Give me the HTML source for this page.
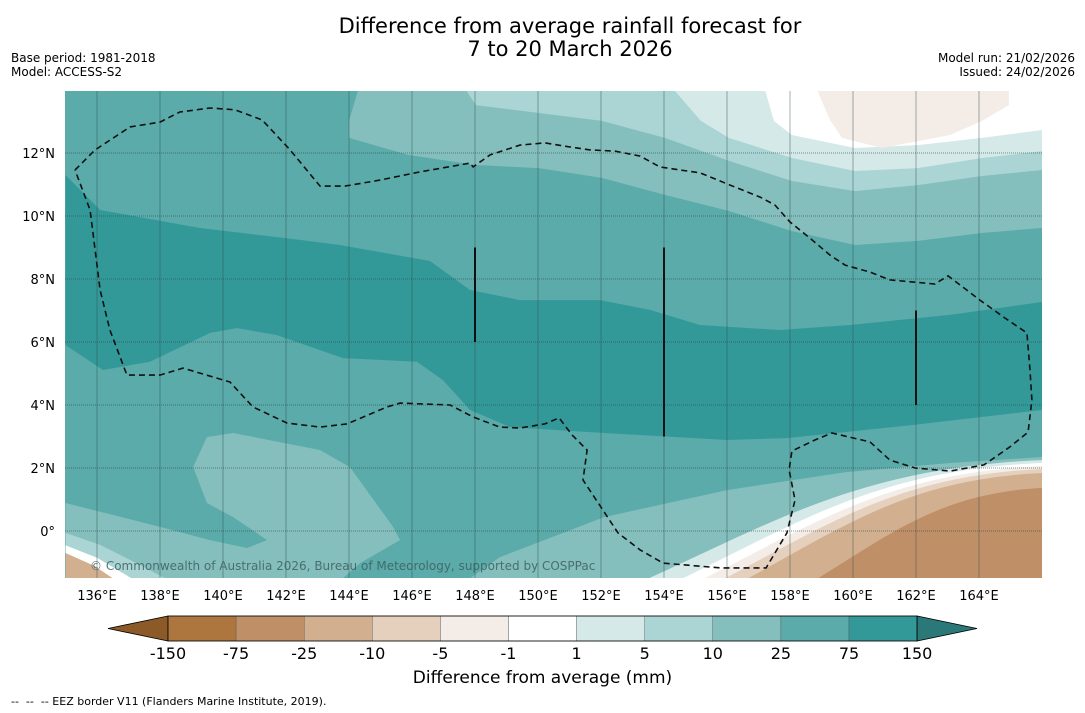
<!DOCTYPE html>
<html><head><meta charset="utf-8">
<style>
html,body{margin:0;padding:0;background:#fff;}
body{width:1085px;height:713px;position:relative;overflow:hidden;font-family:"DejaVu Sans","Liberation Sans",sans-serif;}
.t{position:absolute;white-space:nowrap;color:#000;}
</style></head><body>
<div class="t" style="left:0;width:1140px;top:15px;text-align:center;font-size:21px;line-height:23px;">Difference from average rainfall forecast for<br>7 to 20 March 2026</div>
<div class="t" style="left:11px;top:51px;font-size:12px;line-height:14px;">Base period: 1981-2018<br>Model: ACCESS-S2</div>
<div class="t" style="right:10px;top:51px;font-size:12px;line-height:14px;text-align:right;">Model run: 21/02/2026<br>Issued: 24/02/2026</div>
<div class="t" style="left:0;width:1085px;top:668px;text-align:center;font-size:17px;">Difference from average (mm)</div>
<div class="t" style="left:11px;top:695px;font-size:11px;">--&nbsp; --&nbsp; -- EEZ border V11 (Flanders Marine Institute, 2019).</div>
<svg id="chart" width="1085" height="713" style="position:absolute;left:0;top:0;" xmlns="http://www.w3.org/2000/svg"></svg>
<script>
// ---- data (lon, lat) ----
const darkBand=[[135,11.3],[136.1,10.19],[139.27,9.62],[142.44,9.24],[143.71,9.08],[146.57,8.57],[147.84,7.65],[149.43,7.33],[151.97,7.33],[153.56,7.02],[155.14,6.54],[157.68,6.38],[159.9,6.54],[163.08,6.86],[166,7.27],[166,3.84],[161.97,3.37],[157.9,2.95],[156,2.89],[152.1,3.11],[149.11,3.3],[147.84,3.84],[146.98,4.79],[146.16,5.37],[143.81,5.49],[141.71,6.22],[140.44,6.44],[139.59,6.29],[137.68,5.37],[136.19,5.11],[135,5.9]];
const top10=[[144.29,14],[144.0,13.02],[144.0,12.48],[145.87,11.94],[148.03,11.62],[150.03,11.52],[152.03,11.21],[154.03,10.67],[156.06,10.16],[158.06,9.52],[160.06,9.08],[162.06,9.21],[164.1,9.46],[166,9.62],[166,14]];
const top5=[[147.71,14],[148.03,13.52],[150.03,13.27],[152.03,13.02],[154.03,12.48],[156.06,11.75],[158.06,11.11],[160.06,10.79],[162.06,10.98],[164.1,11.27],[166,11.46],[166,14]];
const top1=[[154.32,14],[155.17,13.02],[156.06,12.48],[158.06,11.84],[160.06,11.43],[162.06,11.52],[164.1,11.84],[166,12.06],[166,14]];
const topWhite=[[157.21,14],[157.49,13.02],[158.06,12.57],[160.06,12.16],[162.06,12.25],[164.1,12.48],[166,12.73],[166,14]];
const topDry=[[158.86,14],[159.27,13.05],[159.65,12.48],[160.92,12.16],[163.08,12.57],[164.1,13.02],[164.95,13.52],[164.95,14]];
const leftLight=[[135,0.89],[138,0.13],[139.59,-0.29],[140.76,-0.54],[141.4,-0.29],[140.32,0.44],[139.49,0.89],[139.05,2.03],[139.49,2.98],[140.32,3.11],[143.08,2.57],[144.03,2.03],[145.4,0.13],[145.62,-0.29],[144.35,-1.02],[143.81,-1.5],[135,-1.5]];
const rightLight=[[147.84,-1.5],[148.79,-0.83],[152.1,0.44],[156,1.3],[159.78,1.87],[163.08,2.16],[166,2.35],[166,-1.5]];
const corner5=[[135,-0.06],[136.1,-0.44],[137.37,-1.08],[138.16,-1.5],[135,-1.5]];
const cornerWhite=[[135,-0.45],[136.0,-0.85],[137.1,-1.5],[135,-1.5]];
const cornerTan=[[135,-0.7],[135.9,-1.1],[136.5,-1.5],[135,-1.5]];
// south-east dry lobe: contour bottom-edge longitudes and right-edge latitudes
const lobeLevels=['5','1','-1','-5','-10','-25'];
const lobeBottomLon=[153.52,154.6,155.3,155.94,156.67,158.89];
const lobeRightLat=[2.25,2.16,2.06,1.97,1.84,1.37];
const lobeColors=['#d5e9e8','#ffffff','#f4ece6','#e4d0bd','#d2b08f','#bf9067'];
const eez=[[135.3,11.46],[135.94,12.1],[137.05,12.83],[138,12.98],[138.63,13.3],[139.59,13.43],[140.38,13.37],[141.24,13.05],[142.13,12.1],[143.08,10.95],[143.87,10.95],[144.98,11.14],[146.25,11.4],[147.84,11.68],[147.94,11.56],[148.48,11.94],[149.43,12.25],[150.22,12.32],[151.02,12.19],[151.65,12.1],[152.44,12.06],[153.24,11.9],[153.87,11.56],[154.51,11.46],[155.14,11.37],[156.1,10.98],[157.05,10.6],[157.52,10.35],[158,9.81],[158.63,9.3],[159.27,8.76],[159.75,8.44],[160.54,8.22],[161.17,7.97],[162.6,7.84],[163.02,8.1],[163.4,7.81],[164.03,7.33],[164.83,6.76],[165.52,6.29],[165.62,5.11],[165.68,4.16],[165.56,3.14],[164.98,2.67],[164.16,2.1],[163.08,1.9],[161.97,2.0],[161.17,2.25],[160.54,2.83],[159.33,3.11],[158.79,2.89],[158.06,2.54],[157.97,1.94],[158.16,0.98],[157.9,-0.06],[157.24,-1.17],[155.78,-1.17],[153.97,-1.02],[153.24,-0.6],[152.54,-0.06],[151.43,1.62],[151.56,2.57],[151.08,3.05],[150.67,3.59],[150.22,3.4],[149.43,3.27],[148.79,3.3],[147.94,3.62],[147.21,4.0],[145.62,4.06],[145.21,3.94],[143.94,3.4],[143.08,3.3],[142.03,3.43],[140.95,3.94],[140.22,4.73],[138.73,5.17],[138,4.95],[136.95,4.95],[136.41,6.38],[136.1,7.65],[135.94,8.92],[135.78,10.19],[135.3,11.46]];
const segLon=[148,154,162];
const segLat0=[6,3,4];
const segLat1=[9,9,7];
const lonTicks=[136,138,140,142,144,146,148,150,152,154,156,158,160,162,164];
const latTicks=[0,2,4,6,8,10,12];
const cbLabels=['-150','-75','-25','-10','-5','-1','1','5','10','25','75','150'];
const cbColors=['#ad763e','#bf9067','#d2b08f','#e4d0bd','#f4ece6','#ffffff','#d5e9e8','#aad5d4','#84bfbe','#5aabaa','#339998'];

// ---- axes ----
const X0=65,X1=1042,Y0=91,Y1=578;
const LON0=135,LON1=166,LAT0=-1.5,LAT1=14;
const FONT='DejaVu Sans, Liberation Sans, sans-serif';
function xs(lon){return 97+(lon-136)*31.5;}
function ys(lat){return 531-lat*31.5;}
const NS='http://www.w3.org/2000/svg';
const svg=document.getElementById('chart');
function mk(tag,attrs,parent){const e=document.createElementNS(NS,tag);for(const k in attrs)e.setAttribute(k,attrs[k]);(parent||svg).appendChild(e);return e;}
function pts(arr){return arr.map(p=>xs(p[0]).toFixed(1)+','+ys(p[1]).toFixed(1)).join(' ');}

const defs=mk('defs',{});
const cp=mk('clipPath',{id:'mapclip'},defs);
mk('rect',{x:X0,y:Y0,width:X1-X0,height:Y1-Y0},cp);
const g=mk('g',{'clip-path':'url(#mapclip)'});

let e;
e=mk('rect',{x:X0,y:Y0,width:X1-X0,height:Y1-Y0,fill:'#5aabaa'},g);


function poly(arr,fill,name){const p=mk('polygon',{points:pts(arr),fill:fill},g);

return p;}
poly(top10,'#84bfbe','contour-10-25-north');
poly(top5,'#aad5d4','contour-5-10-north');
poly(top1,'#d5e9e8','contour-1-5-north');
poly(topWhite,'#ffffff','contour-neutral-north');
poly(topDry,'#f4ece6','contour-dry-north');
poly(darkBand,'#339998','contour-75-150-band');
poly(leftLight,'#84bfbe','contour-10-25-southwest');
poly(rightLight,'#84bfbe','contour-10-25-southeast');
poly(corner5,'#aad5d4','contour-5-10-corner');
poly(cornerWhite,'#ffffff','contour-neutral-corner');
poly(cornerTan,'#d2b08f','contour-dry-corner');
// south-east lobe contours
lobeLevels.forEach((lv,i)=>{
  const xb=xs(lobeBottomLon[i]),yb=ys(LAT0),xr=xs(LON1),yr=ys(lobeRightLat[i]);
  const a=xr-xb,b=yb-yr;
  const d=`M${xb},${yb} C${xb+0.33*a},${yb-0.5*b} ${xr-0.45*a},${yr+0.06*b} ${xr},${yr} L${xr},${yb} Z`;
  const p=mk('path',{d:d,fill:lobeColors[i]},g);
  
  
});
// grid
lonTicks.forEach(l=>{const ln=mk('line',{x1:xs(l),x2:xs(l),y1:Y0,y2:Y1,stroke:'#2d4a4a','stroke-width':0.8,'stroke-opacity':0.55},g);

});
latTicks.forEach(l=>{const ln=mk('line',{x1:X0,x2:X1,y1:ys(l),y2:ys(l),stroke:'#2d4a4a','stroke-width':1,'stroke-opacity':0.6,'stroke-dasharray':'1,1'},g);

});
// EEZ
e=mk('polyline',{points:pts(eez),fill:'none',stroke:'#111','stroke-width':1.6,'stroke-dasharray':'6,4'},g);


segLon.forEach((l,i)=>{const ln=mk('line',{x1:xs(l),x2:xs(l),y1:ys(segLat0[i]),y2:ys(segLat1[i]),stroke:'#111','stroke-width':2},g);

});
e=mk('text',{x:90,y:570,'font-size':12,fill:'#3f5f5f','fill-opacity':0.85,'font-family':FONT},g);
e.textContent='© Commonwealth of Australia 2026, Bureau of Meteorology, supported by COSPPac';


// tick labels
lonTicks.forEach(l=>{const t=mk('text',{x:xs(l),y:600,'font-size':13,'text-anchor':'middle','font-family':FONT});
t.textContent=l+'°E';

});
latTicks.forEach(l=>{const t=mk('text',{x:55,y:ys(l)+5,'font-size':13,'text-anchor':'end','font-family':FONT});
t.textContent=l===0?'0°':l+'°N';

});
// colorbar
const CB0=168,CBW=68.1,CBY=616,CBH=25;
e=mk('polygon',{points:`${CB0},${CBY} ${CB0},${CBY+CBH} 108,${CBY+CBH/2}`,fill:'#8c5a28',stroke:'#000','stroke-width':0.8});


cbColors.forEach((c,i)=>{const r=mk('rect',{x:CB0+i*CBW,y:CBY,width:CBW,height:CBH,fill:c,stroke:'#555','stroke-width':0.4});

});
const CB1=CB0+cbColors.length*CBW;
e=mk('polygon',{points:`${CB1},${CBY} ${CB1},${CBY+CBH} 977,${CBY+CBH/2}`,fill:'#2a7877',stroke:'#000','stroke-width':0.8});


mk('rect',{x:CB0,y:CBY,width:CB1-CB0,height:CBH,fill:'none',stroke:'#000','stroke-width':0.8});
cbLabels.forEach((s,i)=>{const t=mk('text',{x:CB0+i*CBW,y:659,'font-size':16,'text-anchor':'middle','font-family':FONT});
t.textContent=s;

});
</script>
</body></html>
